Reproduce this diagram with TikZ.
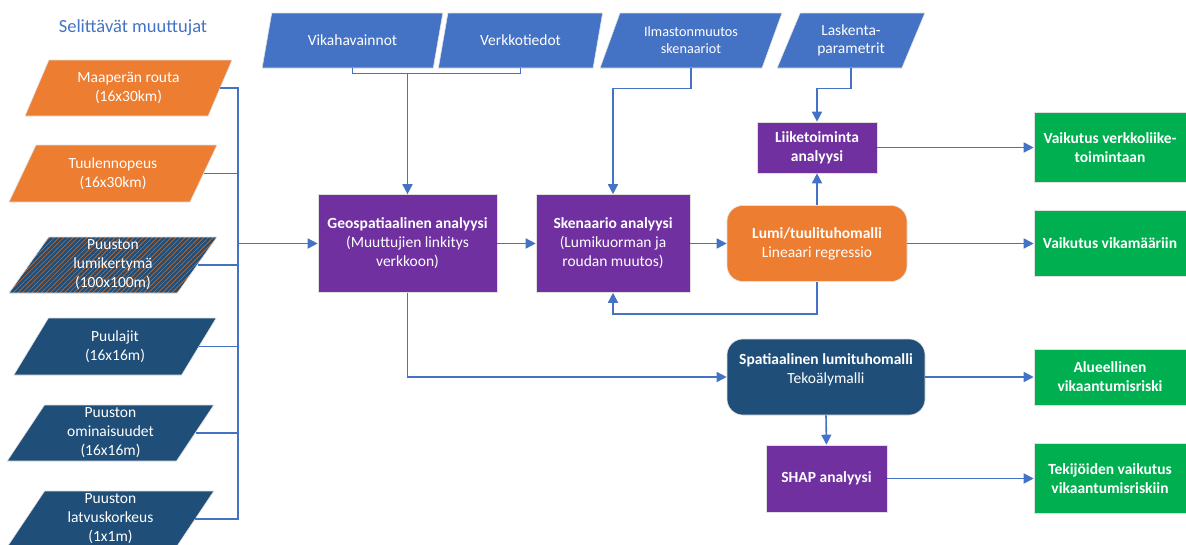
\documentclass[tikz,border=0pt]{standalone}
\usepackage{fontspec}
\setmainfont{Carlito}
\usetikzlibrary{shapes.geometric,arrows.meta,patterns.meta}
\definecolor{cblue}{HTML}{4472C4}
\definecolor{corange}{HTML}{ED7D31}
\definecolor{cdark}{HTML}{1F4E79}
\definecolor{cpurple}{HTML}{7030A0}
\definecolor{cgreen}{HTML}{00B050}
\begin{document}
\begin{tikzpicture}[x=1pt,y=-1pt,
  every node/.style={font=\fontsize{15.5}{19}\selectfont, text=white, align=center, inner sep=0pt},
  para/.style={trapezium, trapezium left angle=64, trapezium right angle=116,
    trapezium stretches=true, draw=black!12, line width=0.6pt},
  box/.style={rectangle, draw=black!12, line width=0.6pt},
  ln/.style={draw=cblue, line width=1.6pt},
  arr/.style={ln, -{Triangle[length=10pt,width=10pt]}}
]
\useasboundingbox (0,0) rectangle (1186,544);

% title
\node[text=cblue, font=\fontsize{18.5}{22}\selectfont] (title) at (133,28) {Selittävät muuttujat};

% left inputs
\node[para, fill=corange, minimum width=207pt, minimum height=56pt] (p1) at (128.5,88) {Maaperän routa\\(16x30km)};
\node[para, fill=corange, minimum width=208pt, minimum height=57pt] (p2) at (113,173.5) {Tuulennopeus\\(16x30km)};
\node[para, preaction={fill=cdark}, pattern={Lines[angle=45,distance=3.3pt,line width=0.6pt]}, pattern color=corange!85!black, minimum width=208pt, minimum height=56pt] (p3) at (113,265) {Puuston\\lumikertymä\\(100x100m)};
\node[para, fill=cdark, minimum width=204pt, minimum height=57pt] (p4) at (115,346.5) {Puulajit\\(16x16m)};
\node[para, fill=cdark, minimum width=207pt, minimum height=56pt] (p5) at (110.5,433) {Puuston\\ominaisuudet\\(16x16m)};
\node[para, fill=cdark, minimum width=207pt, minimum height=56pt] (p6) at (110.5,519) {Puuston\\latvuskorkeus\\(1x1m)};

% top inputs
\node[para, fill=cblue, minimum width=181pt, minimum height=55pt] (vika) at (352.5,40.5) {Vikahavainnot};
\node[para, fill=cblue, minimum width=165pt, minimum height=55pt] (verk) at (520.5,40.5) {Verkkotiedot};
\node[para, fill=cblue, minimum width=182pt, minimum height=55pt, font=\fontsize{14.2}{17}\selectfont] (ilm) at (691,40.5) {Ilmastonmuutos\\skenaariot};
\node[para, fill=cblue, minimum width=148pt, minimum height=55pt, font=\fontsize{15.5}{18}\selectfont] (lask) at (851,40.5) {Laskenta-\\parametrit};

% processing
\node[box, fill=cpurple, minimum width=179pt, minimum height=98pt] (geo) at (407.5,243.5) {\textbf{Geospatiaalinen analyysi}\\(Muuttujien linkitys\\verkkoon)};
\node[box, fill=cpurple, minimum width=154pt, minimum height=98pt] (sken) at (613,243.5) {\textbf{Skenaario analyysi}\\(Lumikuorman ja\\roudan muutos)};
\node[box, fill=corange, rounded corners=16pt, minimum width=180pt, minimum height=76pt] (lumi) at (817,243.5) {\textbf{Lumi/tuulituhomalli}\\Lineaari regressio};
\node[box, fill=cpurple, minimum width=120pt, minimum height=51pt] (liike) at (817,147.5) {\textbf{Liiketoiminta}\\\textbf{analyysi}};
\node[box, fill=cdark, rounded corners=16pt, minimum width=198pt, minimum height=76pt] (spat) at (826,377) {\textbf{Spatiaalinen lumituhomalli}\\Tekoälymalli\\[-3pt]\mbox{}};
\node[box, fill=cpurple, minimum width=121pt, minimum height=67pt] (shap) at (826.5,478.5) {\textbf{SHAP analyysi}};

% outputs
\node[box, fill=cgreen, minimum width=152pt, minimum height=70pt] (g1) at (1110,147.5) {\textbf{Vaikutus verkkoliike-}\\\textbf{toimintaan}};
\node[box, fill=cgreen, minimum width=152pt, minimum height=66pt] (g2) at (1110,243.5) {\textbf{Vaikutus vikamääriin}};
\node[box, fill=cgreen, minimum width=152pt, minimum height=56pt] (g3) at (1110,377) {\textbf{Alueellinen}\\\textbf{vikaantumisriski}};
\node[box, fill=cgreen, minimum width=152pt, minimum height=70pt] (g4) at (1110,478.5) {\textbf{Tekijöiden vaikutus}\\\textbf{vikaantumisriskiin}};

% left bus
\coordinate (bus) at (238,243.5);
\foreach \p in {p1,p2,p3,p4,p5,p6} \draw[ln] (\p.east) -| (bus);
\draw[arr] (bus) -- (geo.west);

% top connectors
\draw[ln] (verk.south) -- ++(0,5) -| (geo.north);
\draw[arr] (vika.south) -- ++(0,5) -| (geo.north);
\draw[arr] (ilm.south) -- ++(0,20) -| (sken.north);
\draw[arr] (lask.south) -- ++(0,20) -| (liike.north);

% flow
\draw[arr] (geo.east) -- (sken.west);
\draw[arr] (sken.east) -- (lumi.west);
\draw[arr] (lumi.north) -- (liike.south);
\draw[arr] (lumi.south) -- ++(0,32) -| (sken.south);
\draw[arr] (geo.south) |- (spat.west);
\draw[arr] (spat.south) -- (shap.north);

% to outputs
\draw[arr] (liike.east) -- (g1.west);
\draw[arr] (lumi.east) -- (g2.west);
\draw[arr] (spat.east) -- (g3.west);
\draw[arr] (shap.east) -- (g4.west);
\end{tikzpicture}
\end{document}
